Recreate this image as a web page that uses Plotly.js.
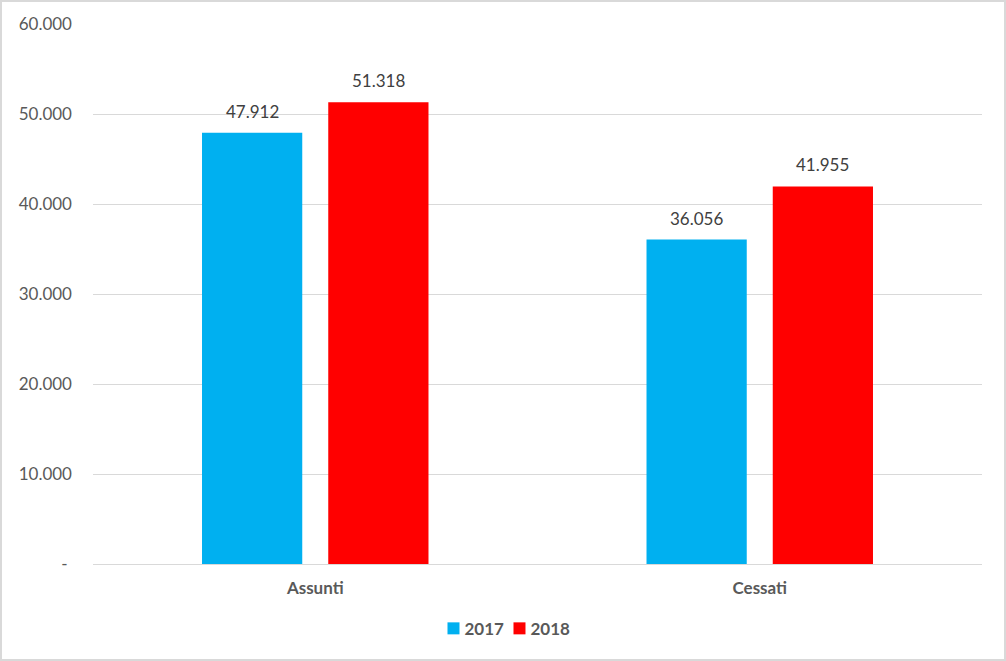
<!DOCTYPE html>
<html>
<head>
<meta charset="utf-8">
<script src="https://cdn.plot.ly/plotly-3.0.1.min.js"></script>
<style>
html,body{margin:0;padding:0;background:#fff;}
#wrap{position:relative;width:1006px;height:661px;}
#chart{width:1006px;height:661px;}
#frame{position:absolute;left:0;top:0;width:1006px;height:661px;box-sizing:border-box;border:2px solid #d9d9d9;pointer-events:none;}
</style>
</head>
<body>
<div id="wrap"><div id="chart"></div><div id="frame"></div></div>
<script>
const categories = ['Assunti', 'Cessati'];
const series2017 = [47912, 36056];
const series2018 = [51318, 41955];
const seriesNames = ['2017', '2018'];
const tickValues = [0, 10000, 20000, 30000, 40000, 50000, 60000];
const tickLabels = ['-\u00a0', '10.000', '20.000', '30.000', '40.000', '50.000', '60.000'];

const fontFam = 'Lato, "Open Sans", sans-serif';
function label(v){ return String(v).replace(/\B(?=(\d{3})+(?!\d))/g, '.'); }

const traces = [
  {type:'bar', name:seriesNames[0], x:categories, y:series2017, marker:{color:'#00B0F0'}, hoverinfo:'x+y'},
  {type:'bar', name:seriesNames[1], x:categories, y:series2018, marker:{color:'#FF0000'}, hoverinfo:'x+y'}
];

const annotations = [];
[series2017, series2018].forEach((s, si) => {
  s.forEach((v, i) => {
    annotations.push({
      xref:'x', yref:'y', x:categories[i], y:v, text:label(v),
      showarrow:false, yanchor:'bottom', xanchor:'center',
      xshift: si === 0 ? -63 : 63, yshift: 9,
      font:{family:fontFam, size:17, color:'#404040'}
    });
  });
});

const layout = {
  width:1006, height:661,
  margin:{l:93, r:24, t:23.5, b:97},
  paper_bgcolor:'#ffffff', plot_bgcolor:'#ffffff',
  barmode:'group', bargap:0.432, bargroupgap:0.206,
  showlegend:true,
  legend:{orientation:'h', x:0.383, xanchor:'left', y:-0.12, yanchor:'middle', entrywidth:21,
          font:{family:fontFam, size:17, color:'#595959', weight:'bold'}, traceorder:'normal'},
  xaxis:{type:'category', showgrid:false, showline:false, zeroline:false, ticks:'',
         tickfont:{family:fontFam, size:17, color:'#595959', weight:'bold'}, ticklabelstandoff:12},
  yaxis:{range:[0,60000], tickvals:tickValues, ticktext:tickLabels, showgrid:true, gridcolor:'#d9d9d9', gridwidth:1,
         zeroline:true, zerolinecolor:'#d9d9d9', zerolinewidth:1, showline:false, ticks:'',
         tickfont:{family:fontFam, size:17, color:'#595959'}, ticklabelstandoff:20},
  annotations:annotations
};

Plotly.newPlot('chart', traces, layout, {displayModeBar:false, staticPlot:true}).then(gd => {
  gd.querySelectorAll('.legend [clip-path]').forEach(el => el.removeAttribute('clip-path'));
  gd.querySelectorAll('.legend .legendtext').forEach(el => {
    const x = parseFloat(el.getAttribute('x') || '0');
    el.setAttribute('x', x - 9);
  });
});
</script>
</body>
</html>
